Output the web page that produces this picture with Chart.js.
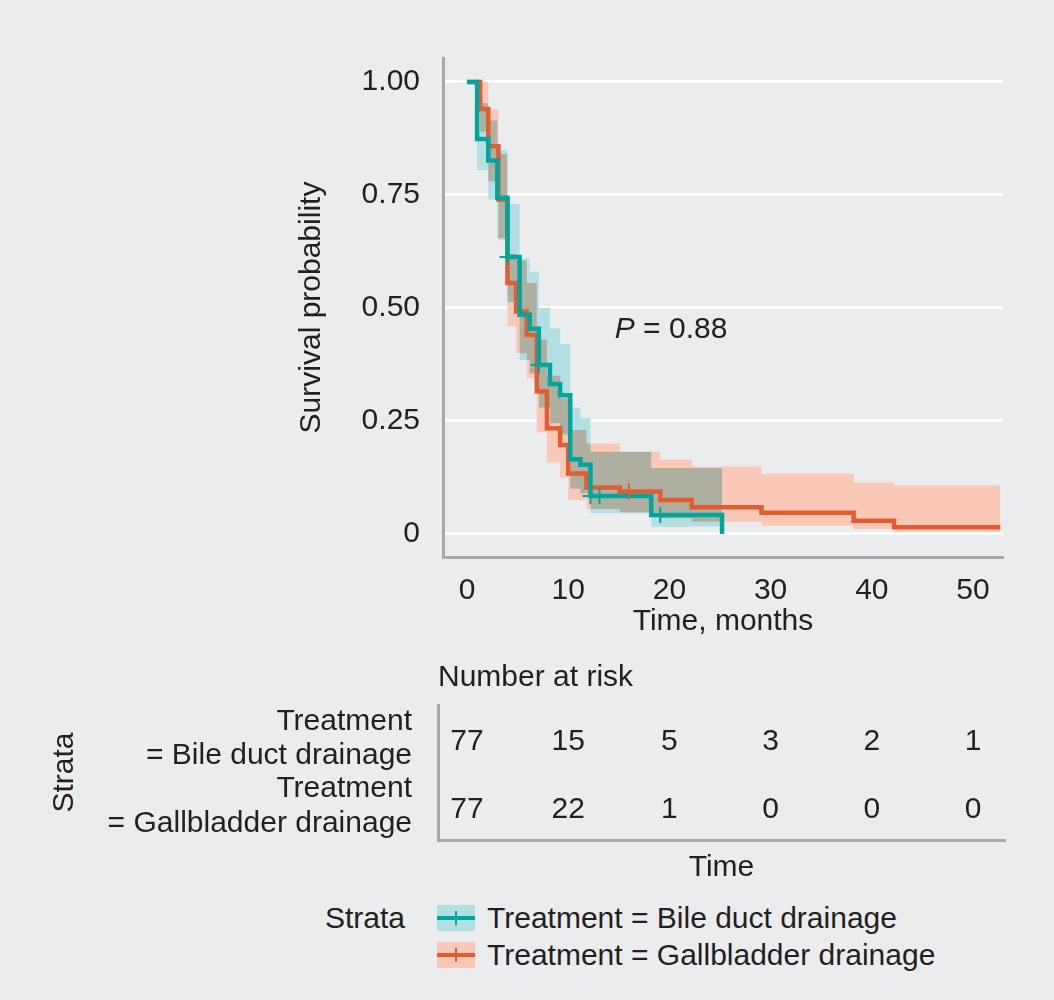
<!DOCTYPE html>
<html>
<head>
<meta charset="utf-8">
<title>Survival by treatment</title>
<script src="https://cdn.jsdelivr.net/npm/chart.js@4.4.0/dist/chart.umd.min.js"></script>
<style>
  html, body { margin: 0; padding: 0; background: #ebeced; }
  body { width: 1054px; height: 1000px; position: relative; overflow: hidden;
         font-family: "Liberation Sans", Arial, sans-serif; color: #231f20; }
  #km { position: absolute; left: 0; top: 0; }
  #risk { position: absolute; left: 0; top: 640px; }
  .lg { position: absolute; font-size: 30px; line-height: 36px; white-space: nowrap; }
  .sw { position: absolute; left: 437px; width: 38px; height: 26px; }
  .sw .h { position: absolute; left: 0; right: 0; top: 11px; height: 4px; }
  .sw .v { position: absolute; left: 18px; width: 2px; top: 6px; height: 14px; }
</style>
</head>
<body>
<canvas id="km" width="1054" height="640"></canvas>
<canvas id="risk" width="1054" height="260"></canvas>
<div id="legend"></div>
<script>
// Kaplan-Meier: bile duct drainage (teal) and gallbladder drainage (orange)

const bileTime  = [0, 1, 2.1, 3.0, 4.0, 5.2, 6.2, 7.1, 8.2, 9.2, 10.2, 11.2, 12.2, 18.2, 25.2];
const bileSurv  = [1, 0.874, 0.826, 0.744, 0.613, 0.485, 0.454, 0.374, 0.332, 0.307, 0.165, 0.153, 0.084, 0.042, 0];
const bileUpper = [1, 0.953, 0.915, 0.85, 0.73, 0.61, 0.58, 0.50, 0.455, 0.42, 0.28, 0.256, 0.182, 0.146, 0.146];
const bileLower = [1, 0.805, 0.74, 0.655, 0.513, 0.385, 0.355, 0.28, 0.245, 0.22, 0.10, 0.09, 0.046, 0.016, 0.016];
const bileCensorTime = [4.0, 7.1, 12.2, 13.1, 19.1];
const bileCensorSurv = [0.613, 0.374, 0.084, 0.084, 0.042];

const gallTime  = [0, 1.3, 2.1, 3.1, 4.0, 4.85, 5.9, 6.9, 7.9, 9.2, 10.0, 11.8, 15.1, 19.1, 22.2, 29.1, 38.2, 42.2, 52.7];
const gallSurv  = [1, 0.94, 0.858, 0.74, 0.555, 0.492, 0.44, 0.315, 0.234, 0.197, 0.134, 0.103, 0.094, 0.075, 0.059, 0.047, 0.029, 0.015, 0.015];
const gallUpper = [1, 1.0, 0.94, 0.84, 0.62, 0.605, 0.555, 0.43, 0.35, 0.30, 0.23, 0.20, 0.182, 0.164, 0.149, 0.133, 0.114, 0.107, 0.107];
const gallLower = [1, 0.89, 0.78, 0.65, 0.46, 0.40, 0.345, 0.225, 0.158, 0.125, 0.075, 0.055, 0.048, 0.035, 0.027, 0.018, 0.011, 0.005, 0.005];
const gallCensorTime = [16.0];
const gallCensorSurv = [0.094];

const timeTicks = [0, 10, 20, 30, 40, 50];
const survTicks = [0, 0.25, 0.5, 0.75, 1];

// number at risk table
const strata   = ['Bile duct drainage', 'Gallbladder drainage'];
const riskTime = [0, 10, 20, 30, 40, 50];
const riskBile = [77, 15, 5, 3, 2, 1];
const riskGall = [77, 22, 1, 0, 0, 0];

const pValue = '0.88';

const FONT = '"Liberation Sans", Arial, sans-serif';
const textColor = '#231f20';
const axisGrey = '#a7a9ac';
const tealLine = '#00a69c';
const tealBand = '#b2e0e2';
const orangeLine = '#e05e32';
const orangeBand = '#fac8b6';

Chart.defaults.font.family = FONT;
Chart.defaults.font.size = 30;
Chart.defaults.color = textColor;

function pts(xs, ys) {
  return xs.map((x, i) => ({ x: x, y: ys[i] }));
}

// stepped 'before': hold the previous value, then drop at the next time
function lineSet(data, color) {
  return { data: data, borderColor: color, borderWidth: 4.5, stepped: 'before', pointRadius: 0,
           borderJoinStyle: 'miter', borderCapStyle: 'butt', fill: false };
}
function bandSet(data, color, fill) {
  return { data: data, borderWidth: 0, borderColor: 'rgba(0,0,0,0)', backgroundColor: color,
           stepped: 'before', pointRadius: 0, fill: fill, isBand: true };
}
function censorSet(data, color) {
  return { data: data, showLine: false, pointStyle: 'cross', pointRadius: 8, pointHoverRadius: 8,
           borderColor: color, borderWidth: 2, pointBorderWidth: 2 };
}

// bands are multiplied so that the overlap darkens like the original
const bandBlend = {
  id: 'bandBlend',
  beforeDatasetsDraw(chart) { chart.ctx.globalCompositeOperation = 'multiply'; },
  beforeDatasetDraw(chart, args) {
    if (!chart.data.datasets[args.index].isBand) chart.ctx.globalCompositeOperation = 'source-over';
  },
  afterDatasetsDraw(chart) { chart.ctx.globalCompositeOperation = 'source-over'; }
};

const pLabel = {
  id: 'pLabel',
  afterDatasetsDraw(chart) {
    const { ctx, scales: { x, y } } = chart;
    const px = x.getPixelForValue(14.6), py = y.getPixelForValue(0.452);
    ctx.save();
    ctx.fillStyle = textColor;
    ctx.textAlign = 'left';
    ctx.textBaseline = 'middle';
    ctx.font = 'italic 30px ' + FONT;
    ctx.fillText('P', px, py);
    const w = ctx.measureText('P').width;
    ctx.font = '30px ' + FONT;
    ctx.fillText(' = ' + pValue, px + w, py);
    ctx.restore();
  }
};

const kmChart = new Chart(document.getElementById('km'), {
  type: 'line',
  data: {
    datasets: [
      censorSet(pts(bileCensorTime, bileCensorSurv), tealLine),
      censorSet(pts(gallCensorTime, gallCensorSurv), orangeLine),
      lineSet(pts(bileTime, bileSurv), tealLine),
      lineSet(pts(gallTime, gallSurv), orangeLine),
      bandSet(pts(bileTime, bileUpper), tealBand, '+1'),
      bandSet(pts(bileTime, bileLower), tealBand, false),
      bandSet(pts(gallTime, gallUpper), orangeBand, '+1'),
      bandSet(pts(gallTime, gallLower), orangeBand, false)
    ]
  },
  options: {
    responsive: false,
    animation: false,
    layout: { padding: { top: 58, right: 51, bottom: 0, left: 0 } },
    plugins: { legend: { display: false }, tooltip: { enabled: false } },
    scales: {
      x: {
        type: 'linear', min: -2.37, max: 52.96,
        afterBuildTicks: s => { s.ticks = timeTicks.map(v => ({ value: v })); },
        afterFit: s => { s.height = 640 - 557; },
        ticks: { padding: 8, maxRotation: 0, autoSkip: false },
        grid: { display: false },
        border: { display: true, color: axisGrey, width: 3 },
        title: { display: true, text: 'Time, months', padding: { top: 0, bottom: 0 } }
      },
      y: {
        type: 'linear', min: -0.051, max: 1.053,
        afterBuildTicks: s => { s.ticks = survTicks.map(v => ({ value: v })); },
        afterFit: s => { s.width = 443; },
        ticks: { padding: 23, callback: v => (v === 0 ? '0' : v.toFixed(2)) },
        grid: { color: '#ffffff', lineWidth: 3, drawTicks: false },
        border: { display: true, color: axisGrey, width: 3 },
        title: { display: true, text: 'Survival probability', padding: { top: 294, bottom: 0 } }
      }
    }
  },
  plugins: [bandBlend, pLabel]
});

// number at risk
const riskLabels = strata.map(s => 'Treatment = ' + s);

const riskText = {
  id: 'riskText',
  afterDatasetsDraw(chart) {
    const { ctx, chartArea } = chart;
    ctx.save();
    ctx.fillStyle = textColor;
    ctx.font = '30px ' + FONT;
    ctx.textAlign = 'center';
    ctx.textBaseline = 'middle';
    [riskBile, riskGall].forEach((row, r) => {
      const meta = chart.getDatasetMeta(r);
      row.forEach((n, i) => ctx.fillText(String(n), meta.data[i].x, meta.data[i].y + 3));
    });
    ctx.textAlign = 'left';
    ctx.fillText('Number at risk', chartArea.left, chartArea.top - 27);
    ctx.restore();
  }
};

const riskChart = new Chart(document.getElementById('risk'), {
  type: 'line',
  data: {
    datasets: [
      { data: riskTime.map(t => ({ x: t, y: riskLabels[0] })), showLine: false, pointRadius: 0 },
      { data: riskTime.map(t => ({ x: t, y: riskLabels[1] })), showLine: false, pointRadius: 0 }
    ]
  },
  options: {
    responsive: false,
    animation: false,
    layout: { padding: { top: 65, right: 49, bottom: 0, left: 0 } },
    plugins: { legend: { display: false }, tooltip: { enabled: false } },
    scales: {
      x: {
        type: 'linear', min: -2.87, max: 53.16,
        afterBuildTicks: s => { s.ticks = timeTicks.map(v => ({ value: v })); },
        afterFit: s => { s.height = 60; },
        ticks: { display: false },
        grid: { display: false },
        border: { display: true, color: axisGrey, width: 3 },
        title: { display: true, text: 'Time', padding: { top: 0, bottom: 14 } }
      },
      y: {
        type: 'category', labels: riskLabels, offset: true,
        afterFit: s => { s.width = 438; },
        ticks: { padding: 18, autoSkip: false, font: { lineHeight: 1.15 },
                 callback: v => ['Treatment', '= ' + strata[v]] },
        grid: { display: false },
        border: { display: true, color: axisGrey, width: 3 },
        title: { display: true, text: 'Strata', padding: { top: 47, bottom: 0 } }
      }
    }
  },
  plugins: [riskText]
});

// legend
const legend = document.getElementById('legend');
const lgTitle = document.createElement('div');
lgTitle.className = 'lg';
lgTitle.style.left = '325px';
lgTitle.style.top = '900px';
lgTitle.textContent = 'Strata';
legend.appendChild(lgTitle);
[[tealLine, tealBand], [orangeLine, orangeBand]].forEach((c, i) => {
  const top = 900 + i * 37;
  const sw = document.createElement('div');
  sw.className = 'sw';
  sw.style.top = (top + 5) + 'px';
  sw.style.background = c[1];
  sw.innerHTML = '<div class="h" style="background:' + c[0] + '"></div><div class="v" style="background:' + c[0] + '"></div>';
  legend.appendChild(sw);
  const tx = document.createElement('div');
  tx.className = 'lg';
  tx.style.left = '487px';
  tx.style.top = top + 'px';
  tx.textContent = riskLabels[i];
  legend.appendChild(tx);
});
</script>
</body>
</html>
